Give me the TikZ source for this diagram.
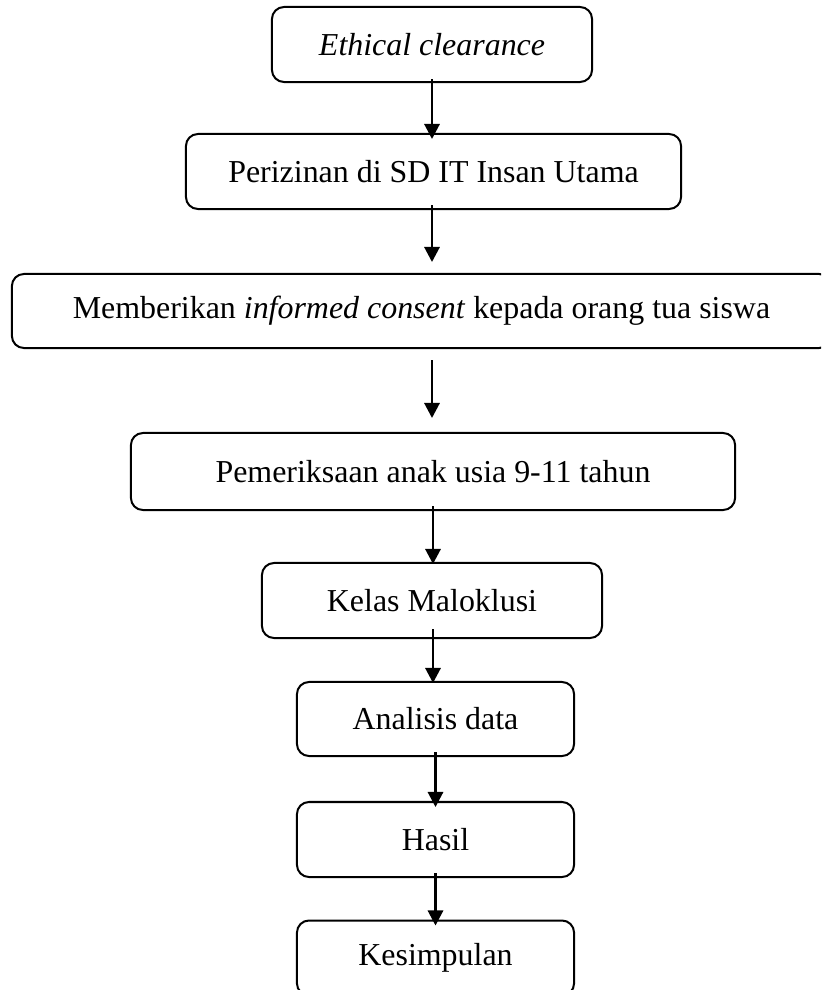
\documentclass[tikz,border=0pt]{standalone}
\usepackage{fontspec}
\setmainfont{Liberation Serif}
\usepackage{tikz}
\usetikzlibrary{arrows.meta}

\begin{document}
\begin{tikzpicture}[x=0.025cm, y=-0.025cm,
	box/.style={draw, line width=0.05cm, rounded corners=0.3cm, inner sep=0pt,
		minimum height=1.875cm, font=\fontsize{22.7}{27}\selectfont},
	arr/.style={line width=0.06cm, -{Triangle[length=0.375cm, width=0.38cm]}}]
					\clip (0,0) rectangle (821,990);
					
					\node[box, minimum width=8cm] (E) at (432,44.5) {\textit{Ethical clearance}};
					\node[box, minimum width=12.375cm] (P) at (433.5,171.5) {Perizinan di SD IT Insan Utama};
					\node[box, minimum width=20.475cm, minimum height=1.85cm] (I) at (421.5,311) {Memberikan \textit{informed consent} kepada orang tua siswa};
					\node[box, minimum width=15.1cm, minimum height=1.925cm] (Pm) at (433,471.5) {Pemeriksaan anak usia 9-11 tahun};
					\node[box, minimum width=8.5cm] (K) at (432,600.5) {Kelas Maloklusi};
					\node[box, minimum width=6.925cm, minimum height=1.85cm] (A) at (435.5,719) {Analisis data};
					\node[box, minimum width=6.925cm] (H) at (435.5,839.5) {Hasil};
					\node[box, minimum width=6.925cm] (Ks) at (435.5,958) {Kesimpulan};
					
					% arrows
					\draw[arr, shorten <=-0.1cm, shorten >=-0.15cm] (E.south) -- (E.south |- P.north);
					\draw[arr, shorten <=-0.125cm, shorten >=0.275cm] ([xshift=-0.0375cm]P.south) -- ([xshift=-0.0375cm]P.south |- I.north);
					\draw[arr, shorten <=0.275cm, shorten >=0.35cm] (E.south |- I.south) -- (E.south |- Pm.north);
					\draw[arr, shorten <=-0.125cm, shorten >=-0.05cm] (Pm.south) -- (Pm.south |- K.north);
					\draw[arr, shorten <=-0.25cm, shorten >=-0.05cm] ([xshift=0.025cm]K.south) -- ([xshift=0.025cm]K.south |- A.north);
					\draw[arr, shorten <=-0.125cm, shorten >=-0.15cm] (A.south) -- (A.south |- H.north);
					\draw[arr, shorten <=-0.125cm, shorten >=-0.15cm] (H.south) -- (H.south |- Ks.north);
					
				\end{tikzpicture}
\end{document}
